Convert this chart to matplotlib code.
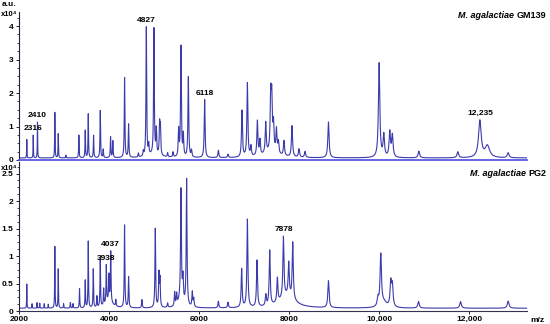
import numpy as np
import matplotlib
matplotlib.use("Agg")
import matplotlib.pyplot as plt
from matplotlib.ticker import MultipleLocator

plt.rcParams['font.family'] = ['Liberation Sans', 'DejaVu Sans']
plt.rcParams['font.weight'] = 'bold'

# peak lists (m/z, intensity in x10^4 a.u.)
gm139_mz = [2173, 2316, 2410, 2796, 2871, 3040, 3329, 3471, 3538, 3656, 3804, 3870,
            4033, 4084, 4344, 4433, 4650, 4760, 4827, 4880, 4996, 5049, 5122, 5140,
            5300, 5420, 5544, 5596, 5649, 5760, 5830, 6122, 6427, 6640, 6951, 7071,
            7150, 7293, 7350, 7478, 7589, 7612, 7650, 7716, 7760, 7884, 8062, 8218,
            8351, 8871, 9996, 10100, 10233, 10290, 10878, 11744, 12862]
gm139_int = [0.55, 0.68, 1.07, 1.36, 0.72, 0.08, 0.68, 0.82, 1.31, 0.67, 1.41, 0.25,
             0.62, 0.5, 2.39, 0.99, 0.12, 0.15, 3.85, 0.3, 3.75, 0.73, 0.9, 0.8,
             0.12, 0.15, 0.8, 3.3, 0.65, 2.4, 0.2, 1.74, 0.22, 0.1, 1.39, 2.2,
             0.3, 1.04, 0.45, 0.92, 1.6, 1.5, 0.8, 0.7, 0.35, 0.45, 0.93, 0.25,
             0.18, 1.07, 2.82, 0.66, 0.75, 0.65, 0.2, 0.18, 0.15]
# broad components: centre, height, half width
gm139_broad = [(12233, 1.1, 35), (12400, 0.35, 60), (7600, 0.15, 200), (5000, 0.1, 150)]

pg2_mz = [2173, 2290, 2400, 2460, 2560, 2650, 2796, 2871, 2990, 3140, 3200, 3344,
          3471, 3538, 3649, 3730, 3804, 3880, 3938, 3996, 4037, 4150, 4344, 4433,
          4729, 5026, 5107, 5130, 5300, 5456, 5500, 5596, 5640, 5722, 5848, 5880,
          6427, 6640, 6944, 7071, 7285, 7480, 7567, 7737, 7871, 7989, 8078, 8871,
          9970, 10033, 10255, 10290, 10871, 11804, 12862]
pg2_int = [0.44, 0.08, 0.1, 0.09, 0.08, 0.07, 1.12, 0.71, 0.08, 0.1, 0.08, 0.35,
           0.5, 1.21, 0.7, 0.2, 0.88, 0.3, 0.68, 0.45, 0.9, 0.12, 1.5, 0.56,
           0.15, 1.44, 0.6, 0.5, 0.08, 0.25, 0.2, 1.95, 0.4, 2.3, 0.27, 0.15,
           0.12, 0.1, 0.7, 1.6, 0.85, 0.2, 1.0, 0.44, 1.1, 0.6, 1.03, 0.49,
           0.15, 0.93, 0.44, 0.38, 0.12, 0.12, 0.13]
pg2_broad = [(4000, 0.15, 80), (7950, 0.22, 200), (5600, 0.2, 60), (10100, 0.1, 80)]

gm139_labels = [2316, 2410, 4827, 6118, 12235]
gm139_label_text = ['2316', '2410', '4827', '6118', '12,235']
pg2_labels = [3938, 4037, 7878]
pg2_label_text = ['3938', '4037', '7878']

xtick_pos = [2000, 4000, 6000, 8000, 10000, 12000]
xtick_text = ['2000', '4000', '6000', '8000', '10,000', '12,000']
top_yticks = [0, 1, 2, 3, 4]
bottom_yticks = [0, 0.5, 1, 1.5, 2, 2.5]

line_col = '#3b3bab'
mz = np.linspace(2000, 13280, 45000)


def spectrum(peaks_mz, peaks_int, broad, base):
    y = np.full_like(mz, base)
    for c, h in zip(peaks_mz, peaks_int):
        g = c * 0.0018
        y += h * g**2 / ((mz - c)**2 + g**2)
    for c, h, w in broad:
        y += h * w**2 / ((mz - c)**2 + w**2)
    return y


def peak_height(y, pos):
    i = np.argmin(np.abs(mz - pos))
    return y[max(i - 60, 0):i + 60].max()


fig = plt.figure(figsize=(5.5, 3.24), dpi=100)
ax1 = fig.add_axes([19 / 550, 1 - 160 / 324, 508 / 550, 148 / 324])
ax2 = fig.add_axes([19 / 550, 1 - 311 / 324, 508 / 550, 149 / 324])

y1 = spectrum(gm139_mz, gm139_int, gm139_broad, 0.06)
y2 = spectrum(pg2_mz, pg2_int, pg2_broad, 0.05)

ax1.plot(mz, y1, color=line_col, lw=0.8)
ax2.plot(mz, y2, color=line_col, lw=0.8)

for ax, ymax, yt in [(ax1, 4.42, top_yticks), (ax2, 2.71, bottom_yticks)]:
    ax.set_xlim(2000, 13280)
    ax.set_ylim(0, ymax)
    ax.set_yticks(yt)
    ax.set_yticklabels([('%g' % v) for v in yt])
    ax.yaxis.set_minor_locator(MultipleLocator(0.25 if ymax > 3 else 0.125))
    for s in ['top', 'right']:
        ax.spines[s].set_visible(False)
    ax.spines['left'].set_color('#222244')
    ax.spines['left'].set_linewidth(0.8)
    ax.tick_params(axis='y', labelsize=6, length=2.5, width=0.6, pad=1.5)
    ax.tick_params(axis='y', which='minor', length=1.5, width=0.5)
    ax.patch.set_alpha(0)

ax1.spines['bottom'].set_color('#5a5ae6')
ax1.spines['bottom'].set_linewidth(1.3)
ax1.set_xticks([])

ax2.spines['bottom'].set_color('#333355')
ax2.spines['bottom'].set_linewidth(0.8)
ax2.set_xticks(xtick_pos)
ax2.set_xticklabels(xtick_text)
ax2.tick_params(axis='x', labelsize=6, length=2, width=0.6, pad=1.5)

for ax, y, pos, txt in [(ax1, y1, gm139_labels, gm139_label_text),
                        (ax2, y2, pg2_labels, pg2_label_text)]:
    for p, t in zip(pos, txt):
        ax.annotate(t, xy=(p, peak_height(y, p)), xytext=(0, 2),
                    textcoords='offset points', ha='center', va='bottom',
                    fontsize=6, fontweight='bold')

fig.text(2 / 550, 1 - 5 / 324, 'a.u.', fontsize=6, va='center', ha='left')
fig.text(1 / 550, 1 - 14 / 324, 'x10⁴', fontsize=5.5, va='center', ha='left')
fig.text(1 / 550, 1 - 168 / 324, 'x10⁴', fontsize=5.5, va='center', ha='left')
fig.text(530 / 550, 1 - 320 / 324, 'm/z', fontsize=6, va='center', ha='left')

for ypix, strain in [(15, 'GM139'), (173, 'PG2')]:
    t = fig.text(546 / 550, 1 - ypix / 324, strain, fontsize=6.5,
                 ha='right', va='center')
    ax1.annotate('M. agalactiae ', xy=(0, 0), xycoords=t, ha='right', va='bottom',
                 fontsize=6.5, style='italic', annotation_clip=False)

fig.savefig('out.png', dpi=100)
